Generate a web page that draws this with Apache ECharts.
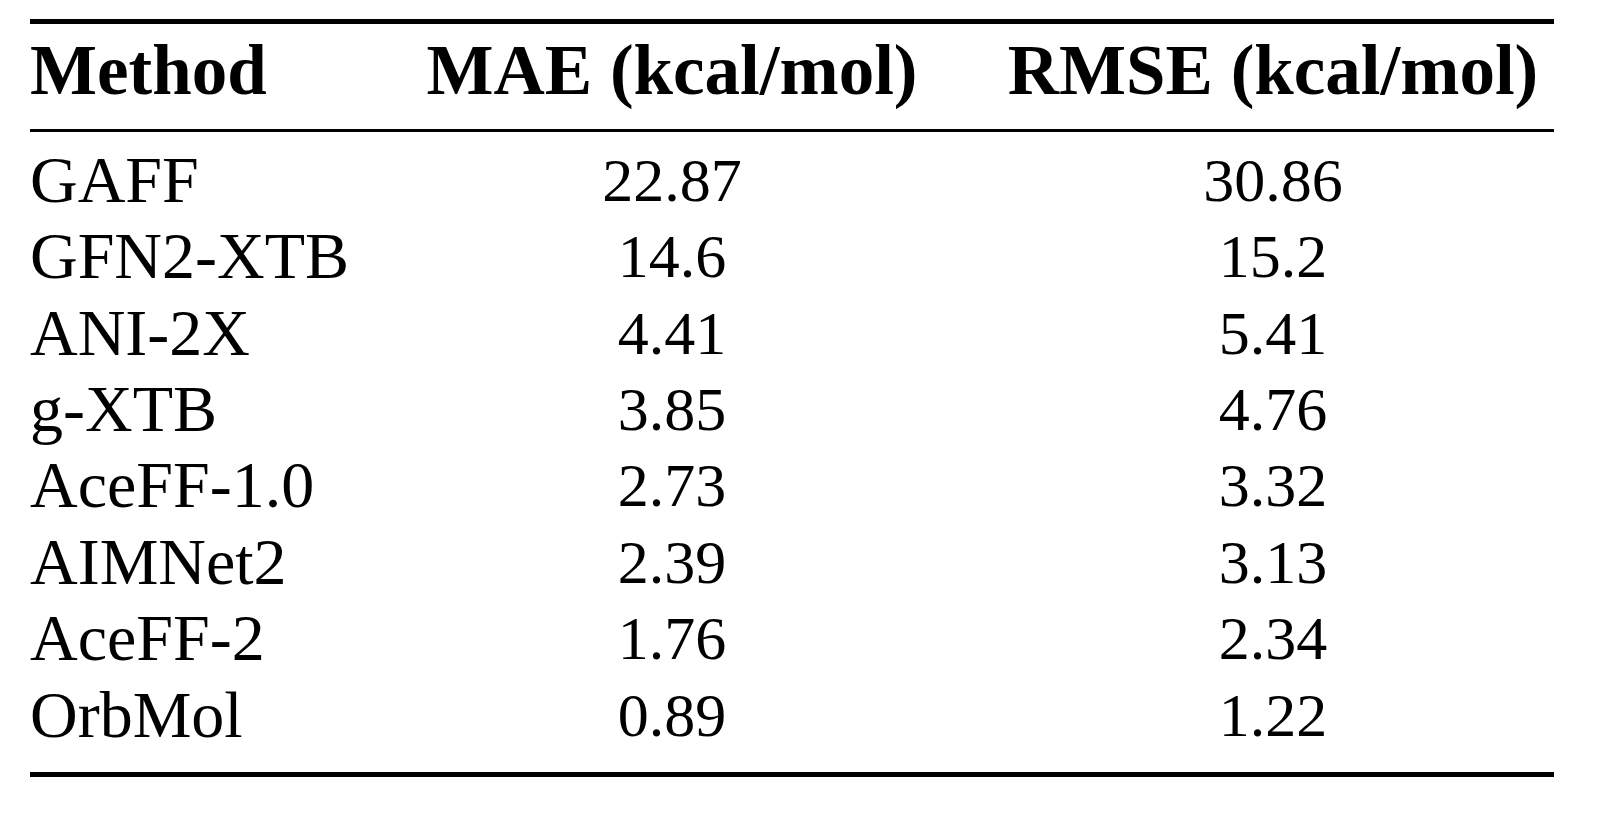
<!DOCTYPE html>
<html>
<head>
<meta charset="utf-8">
<script src="https://cdn.jsdelivr.net/npm/echarts@6/dist/echarts.min.js"></script>
<style>
html,body{margin:0;padding:0;background:#fff;}
#chart{width:1600px;height:823px;}
</style>
</head>
<body>
<div id="chart"></div>
<script>
// ---- data ----
var columns = ['Method', 'MAE (kcal/mol)', 'RMSE (kcal/mol)'];
var methods = ['GAFF', 'GFN2-XTB', 'ANI-2X', 'g-XTB', 'AceFF-1.0', 'AIMNet2', 'AceFF-2', 'OrbMol'];
var maeValues = ['22.87', '14.6', '4.41', '3.85', '2.73', '2.39', '1.76', '0.89'];
var rmseValues = ['30.86', '15.2', '5.41', '4.76', '3.32', '3.13', '2.34', '1.22'];

// ---- styles ----
var FONT = '"Liberation Serif", "Times New Roman", serif';
var BODY_SIZE = 66;
var NUM_SIZE = 62;
var HEAD_SIZE = 71;

function cells(colIndex, values) {
  return values.map(function (v, i) { return [colIndex, i, v]; });
}

var chart = echarts.init(document.getElementById('chart'));

var numberLabel = {
  show: true,
  position: 'inside',
  formatter: function (p) { return p.value[2]; },
  fontFamily: FONT,
  fontSize: NUM_SIZE,
  color: '#000',
  opacity: 1
};

chart.setOption({
  animation: false,
  backgroundColor: '#fff',
  grid: { left: 71, right: 327, top: 146.5, bottom: 65.6 },
  xAxis: {
    type: 'category',
    data: columns,
    position: 'top',
    boundaryGap: false,
    axisLine: { show: false },
    axisTick: { show: false },
    splitLine: { show: false },
    axisLabel: {
      interval: 0,
      margin: 35,
      color: '#000',
      fontFamily: FONT,
      fontWeight: 'bold',
      fontSize: HEAD_SIZE,
      lineHeight: HEAD_SIZE,
      formatter: function (v, i) { return i === 0 ? '{m|' + v + '}' : '{h|' + v + '}'; },
      rich: {
        m: { width: 82, align: 'left', fontFamily: FONT, fontWeight: 'bold', fontSize: HEAD_SIZE, lineHeight: HEAD_SIZE, color: '#000' },
        h: { fontFamily: FONT, fontWeight: 'bold', fontSize: HEAD_SIZE, lineHeight: HEAD_SIZE, color: '#000' }
      }
    }
  },
  yAxis: {
    type: 'category',
    data: methods,
    inverse: true,
    axisLine: { show: false },
    axisTick: { show: false },
    splitLine: { show: false },
    axisLabel: {
      interval: 0,
      align: 'left',
      margin: 41,
      color: '#000',
      fontFamily: FONT,
      fontSize: BODY_SIZE
    }
  },
  series: [
    {
      name: 'MAE (kcal/mol)',
      type: 'scatter',
      symbolSize: 1,
      itemStyle: { color: 'rgba(0,0,0,0)' },
      label: numberLabel,
      data: cells(1, maeValues)
    },
    {
      name: 'RMSE (kcal/mol)',
      type: 'scatter',
      symbolSize: 1,
      itemStyle: { color: 'rgba(0,0,0,0)' },
      label: numberLabel,
      data: cells(2, rmseValues)
    }
  ],
  graphic: [
    { type: 'line', shape: { x1: 30, y1: 21.5, x2: 1554, y2: 21.5 }, style: { stroke: '#000', lineWidth: 5 } },
    { type: 'line', shape: { x1: 30, y1: 130.5, x2: 1554, y2: 130.5 }, style: { stroke: '#000', lineWidth: 3.2 } },
    { type: 'line', shape: { x1: 30, y1: 774.5, x2: 1554, y2: 774.5 }, style: { stroke: '#000', lineWidth: 5 } }
  ]
});
</script>
</body>
</html>
